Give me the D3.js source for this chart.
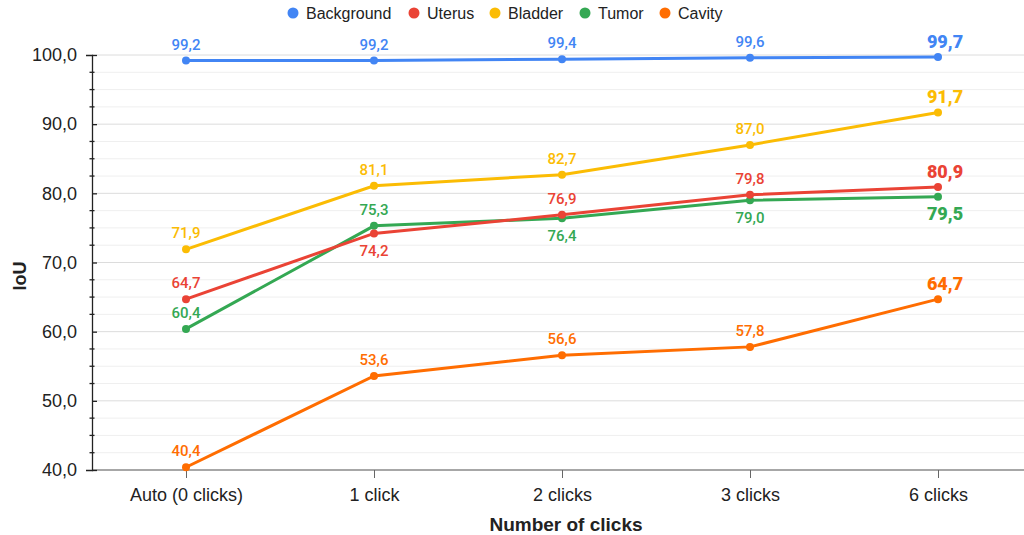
<!DOCTYPE html>
<html>
<head>
<meta charset="utf-8">
<script src="https://cdn.jsdelivr.net/npm/d3@7"></script>
<style>
  body { margin: 0; background: #fff; }
  svg { display: block; }
  .axis text { font-family: "Liberation Sans", Arial, sans-serif; }
</style>
</head>
<body>
<div id="chart"></div>
<script>
const WIDTH = 1024;
const HEIGHT = 535;

const categories = ["Auto (0 clicks)", "1 click", "2 clicks", "3 clicks", "6 clicks"];
const seriesNames = ["Background", "Uterus", "Bladder", "Tumor", "Cavity"];
const background = [99.2, 99.2, 99.4, 99.6, 99.7];
const uterus = [64.7, 74.2, 76.9, 79.8, 80.9];
const bladder = [71.9, 81.1, 82.7, 87.0, 91.7];
const tumor = [60.4, 75.3, 76.4, 79.0, 79.5];
const cavity = [40.4, 53.6, 56.6, 57.8, 64.7];
const yTicks = [40, 50, 60, 70, 80, 90, 100];

// labels that sit under the point instead of above it
const labelsBelow = {
  Uterus: [false, true, false, false, false],
  Tumor: [false, false, true, true, true]
};

const colors = ["#4285F4", "#EA4335", "#FBBC04", "#34A853", "#FF6D01"];
const allValues = [background, uterus, bladder, tumor, cavity];

const series = seriesNames.map(function (name, i) {
  return { name: name, color: colors[i], values: allValues[i] };
});

const PLOT_LEFT = 92, PLOT_RIGHT = 1032, PLOT_TOP = 55, PLOT_BOTTOM = 470;

const svg = d3.select("#chart").append("svg")
  .attr("width", WIDTH)
  .attr("height", HEIGHT);

const x = d3.scalePoint()
  .domain(categories)
  .range([PLOT_LEFT, PLOT_RIGHT])
  .padding(0.5);

const y = d3.scaleLinear()
  .domain([40, 100])
  .range([PLOT_BOTTOM, PLOT_TOP]);

const fmt = function (v) { return d3.format(".1f")(v).replace(".", ","); };

// gridlines
const minor = d3.range(42.5, 100, 2.5).filter(function (d) { return d % 10 !== 0; });
svg.append("g").selectAll("line")
  .data(minor)
  .enter().append("line")
  .attr("x1", PLOT_LEFT).attr("x2", WIDTH)
  .attr("y1", function (d) { return y(d); })
  .attr("y2", function (d) { return y(d); })
  .attr("stroke", "#efefef");

svg.append("g").selectAll("line")
  .data(yTicks.slice(1))
  .enter().append("line")
  .attr("x1", PLOT_LEFT).attr("x2", WIDTH)
  .attr("y1", function (d) { return y(d); })
  .attr("y2", function (d) { return y(d); })
  .attr("stroke", "#dcdcdc");

// x axis baseline
svg.append("line")
  .attr("x1", PLOT_LEFT).attr("x2", WIDTH)
  .attr("y1", PLOT_BOTTOM).attr("y2", PLOT_BOTTOM)
  .attr("stroke", "#8a8a8a").attr("stroke-width", 1.5);

const xAxis = svg.append("g")
  .attr("class", "axis")
  .attr("transform", "translate(0," + PLOT_BOTTOM + ")")
  .call(d3.axisBottom(x).tickSize(8).tickPadding(10));
xAxis.select(".domain").remove();
xAxis.selectAll("line").attr("stroke", "#666");
xAxis.selectAll("text").attr("font-size", 18).attr("fill", "#222");

// y axis
const yAxis = svg.append("g")
  .attr("class", "axis")
  .attr("transform", "translate(" + PLOT_LEFT + ",0)")
  .call(d3.axisLeft(y).tickValues(yTicks).tickFormat(fmt).tickSizeOuter(0).tickSize(6).tickPadding(9));
yAxis.select(".domain").attr("stroke", "#222").attr("stroke-width", 1.3);
yAxis.selectAll(".tick line").attr("x2", 5).attr("stroke", "#222").attr("stroke-width", 1.3);
yAxis.selectAll("text").attr("font-size", 18).attr("fill", "#222");

svg.append("g").selectAll("line")
  .data(minor)
  .enter().append("line")
  .attr("x1", PLOT_LEFT - 2.5).attr("x2", PLOT_LEFT + 2.5)
  .attr("y1", function (d) { return y(d); })
  .attr("y2", function (d) { return y(d); })
  .attr("stroke", "#222").attr("stroke-width", 1.3);

// axis titles
svg.append("text")
  .attr("x", 566)
  .attr("y", 531)
  .attr("text-anchor", "middle")
  .attr("font-family", "Liberation Sans, Arial, sans-serif")
  .attr("font-weight", "bold")
  .attr("font-size", 19)
  .attr("fill", "#222")
  .text("Number of clicks");

svg.append("text")
  .attr("transform", "translate(26,276) rotate(-90)")
  .attr("text-anchor", "middle")
  .attr("font-family", "Liberation Sans, Arial, sans-serif")
  .attr("font-weight", "bold")
  .attr("font-size", 18)
  .attr("fill", "#222")
  .text("IoU");

// lines
const line = d3.line()
  .x(function (d, i) { return x(categories[i]); })
  .y(function (d) { return y(d); });

series.slice().reverse().forEach(function (s) {
  const g = svg.append("g");
  g.append("path")
    .attr("d", line(s.values))
    .attr("fill", "none")
    .attr("stroke", s.color)
    .attr("stroke-width", 3);

  g.selectAll("circle")
    .data(s.values)
    .enter().append("circle")
    .attr("cx", function (d, i) { return x(categories[i]); })
    .attr("cy", function (d) { return y(d); })
    .attr("r", 4)
    .attr("fill", s.color);
});

// point labels
series.forEach(function (s) {
  const below = labelsBelow[s.name] || [];
  svg.append("g").selectAll("text")
    .data(s.values)
    .enter().append("text")
    .attr("x", function (d, i) { return x(categories[i]) + (i === 4 ? 7 : 0); })
    .attr("y", function (d, i) {
      if (below[i]) return y(d) + (i === 4 ? 23 : 23);
      return y(d) + (i === 4 ? -9 : -11);
    })
    .attr("text-anchor", "middle")
    .attr("font-family", "Roboto, sans-serif")
    .attr("font-size", function (d, i) { return i === 4 ? 18 : 15; })
    .attr("font-weight", function (d, i) { return i === 4 ? 900 : 500; })
    .attr("fill", s.color)
    .text(fmt);
});

// legend
const legendX = [293, 414, 495, 585, 665];
const legend = svg.append("g");
series.forEach(function (s, i) {
  legend.append("circle")
    .attr("cx", legendX[i]).attr("cy", 13).attr("r", 5.5)
    .attr("fill", s.color);
  legend.append("text")
    .attr("x", legendX[i] + 13).attr("y", 19)
    .attr("font-family", "Liberation Sans, Arial, sans-serif")
    .attr("font-size", 16)
    .attr("fill", "#222")
    .text(s.name);
});
</script>
</body>
</html>
